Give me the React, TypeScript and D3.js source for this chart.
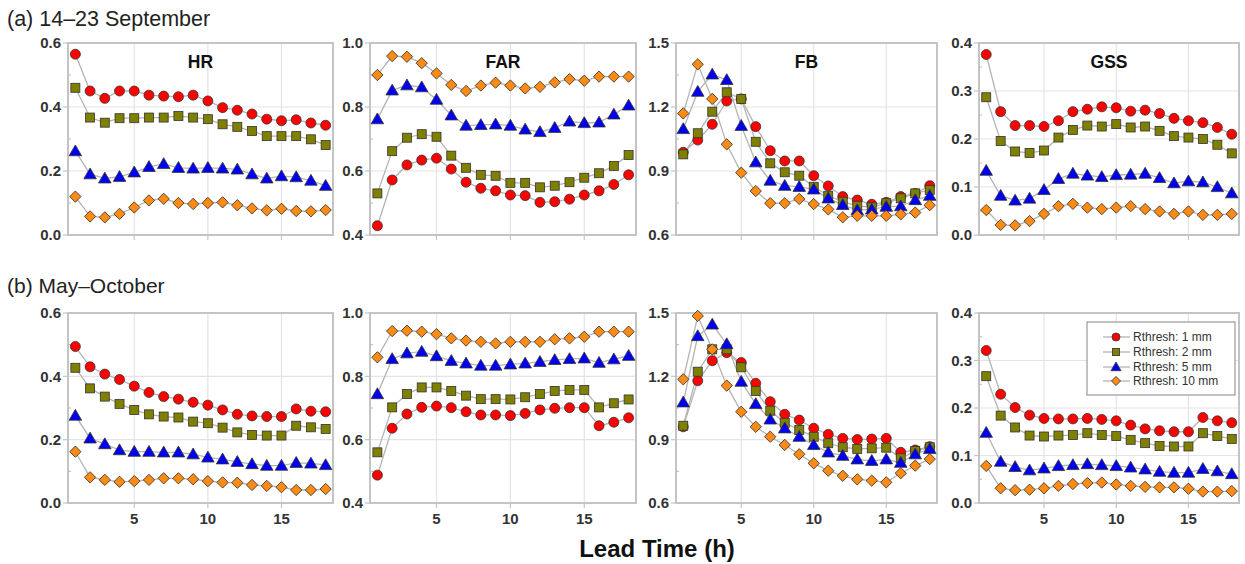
import React from "react";
import * as d3 from "d3";

const leadTimes = d3.range(1, 19);
const seriesNames = ["Rthresh: 1 mm", "Rthresh: 2 mm", "Rthresh: 5 mm", "Rthresh: 10 mm"];
const panelTitles = ["HR", "FAR", "FB", "GSS"];
const rowLabels = ["(a) 14\u201323 September", "(b) May\u2013October"];
const yDomains = [[0, 0.6], [0.4, 1.0], [0.6, 1.5], [0, 0.4]];
const yTickSteps = [0.2, 0.2, 0.3, 0.1];
const xTicks = [5, 10, 15];

// Row (a) 14–23 September
const hrA1 = [0.565, 0.45, 0.427, 0.45, 0.45, 0.437, 0.434, 0.432, 0.437, 0.419, 0.398, 0.39, 0.378, 0.362, 0.357, 0.36, 0.35, 0.343];
const hrA2 = [0.46, 0.367, 0.351, 0.365, 0.365, 0.367, 0.367, 0.372, 0.367, 0.362, 0.346, 0.338, 0.325, 0.309, 0.309, 0.309, 0.299, 0.281];
const hrA5 = [0.262, 0.19, 0.177, 0.182, 0.196, 0.213, 0.222, 0.21, 0.208, 0.21, 0.208, 0.205, 0.19, 0.177, 0.184, 0.181, 0.17, 0.154];
const hrA10 = [0.12, 0.058, 0.055, 0.066, 0.086, 0.108, 0.113, 0.1, 0.097, 0.1, 0.102, 0.093, 0.083, 0.077, 0.082, 0.075, 0.074, 0.078];

const farA1 = [0.429, 0.572, 0.619, 0.634, 0.64, 0.606, 0.565, 0.546, 0.538, 0.525, 0.523, 0.502, 0.504, 0.512, 0.525, 0.538, 0.558, 0.588];
const farA2 = [0.53, 0.662, 0.704, 0.715, 0.707, 0.648, 0.61, 0.588, 0.585, 0.563, 0.563, 0.549, 0.554, 0.565, 0.579, 0.593, 0.616, 0.65];
const farA5 = [0.762, 0.852, 0.868, 0.862, 0.823, 0.774, 0.742, 0.744, 0.746, 0.742, 0.73, 0.722, 0.735, 0.755, 0.75, 0.752, 0.777, 0.805];
const farA10 = [0.9, 0.959, 0.957, 0.937, 0.905, 0.869, 0.85, 0.867, 0.876, 0.867, 0.858, 0.863, 0.877, 0.887, 0.882, 0.895, 0.895, 0.895];

const fbA1 = [0.988, 1.045, 1.119, 1.228, 1.238, 1.108, 0.995, 0.947, 0.947, 0.878, 0.83, 0.78, 0.764, 0.744, 0.753, 0.78, 0.795, 0.831];
const fbA2 = [0.978, 1.077, 1.178, 1.269, 1.238, 1.037, 0.936, 0.894, 0.878, 0.826, 0.784, 0.756, 0.737, 0.73, 0.749, 0.772, 0.795, 0.811];
const fbA5 = [1.097, 1.272, 1.353, 1.327, 1.112, 0.941, 0.855, 0.831, 0.826, 0.814, 0.772, 0.741, 0.717, 0.72, 0.733, 0.735, 0.764, 0.784];
const fbA10 = [1.17, 1.4, 1.238, 1.025, 0.892, 0.806, 0.749, 0.749, 0.769, 0.745, 0.72, 0.683, 0.69, 0.69, 0.69, 0.697, 0.705, 0.74];

const gssA1 = [0.376, 0.257, 0.228, 0.228, 0.226, 0.238, 0.257, 0.262, 0.267, 0.265, 0.258, 0.26, 0.253, 0.243, 0.238, 0.234, 0.224, 0.21];
const gssA2 = [0.287, 0.196, 0.174, 0.171, 0.176, 0.203, 0.219, 0.228, 0.226, 0.231, 0.224, 0.226, 0.217, 0.206, 0.203, 0.2, 0.188, 0.17];
const gssA5 = [0.134, 0.082, 0.072, 0.076, 0.094, 0.117, 0.128, 0.124, 0.121, 0.125, 0.126, 0.128, 0.119, 0.108, 0.112, 0.11, 0.1, 0.087];
const gssA10 = [0.052, 0.021, 0.02, 0.029, 0.044, 0.06, 0.065, 0.057, 0.054, 0.057, 0.06, 0.054, 0.049, 0.044, 0.049, 0.042, 0.042, 0.044];

// Row (b) May–October
const hrB1 = [0.494, 0.43, 0.407, 0.39, 0.369, 0.349, 0.336, 0.328, 0.318, 0.309, 0.294, 0.28, 0.275, 0.273, 0.273, 0.297, 0.29, 0.288];
const hrB2 = [0.427, 0.362, 0.336, 0.313, 0.294, 0.28, 0.273, 0.27, 0.257, 0.252, 0.238, 0.223, 0.215, 0.213, 0.213, 0.244, 0.239, 0.234];
const hrB5 = [0.276, 0.204, 0.186, 0.167, 0.162, 0.162, 0.16, 0.16, 0.154, 0.144, 0.138, 0.13, 0.123, 0.118, 0.118, 0.127, 0.125, 0.12];
const hrB10 = [0.162, 0.081, 0.073, 0.067, 0.069, 0.073, 0.078, 0.078, 0.075, 0.069, 0.065, 0.064, 0.057, 0.054, 0.05, 0.041, 0.041, 0.044];

const farB1 = [0.488, 0.636, 0.681, 0.702, 0.706, 0.701, 0.688, 0.678, 0.678, 0.676, 0.683, 0.694, 0.699, 0.701, 0.701, 0.644, 0.655, 0.669];
const farB2 = [0.56, 0.702, 0.744, 0.765, 0.765, 0.754, 0.739, 0.728, 0.728, 0.727, 0.734, 0.744, 0.754, 0.757, 0.757, 0.702, 0.715, 0.727];
const farB5 = [0.744, 0.855, 0.873, 0.878, 0.864, 0.849, 0.841, 0.834, 0.834, 0.838, 0.841, 0.846, 0.852, 0.855, 0.857, 0.843, 0.854, 0.865];
const farB10 = [0.86, 0.943, 0.944, 0.941, 0.933, 0.92, 0.913, 0.909, 0.904, 0.909, 0.909, 0.909, 0.917, 0.92, 0.925, 0.941, 0.941, 0.941];

const fbB1 = [0.961, 1.179, 1.274, 1.312, 1.265, 1.167, 1.08, 1.02, 0.993, 0.954, 0.925, 0.906, 0.901, 0.903, 0.906, 0.84, 0.851, 0.867];
const fbB2 = [0.966, 1.222, 1.328, 1.328, 1.243, 1.131, 1.037, 0.98, 0.946, 0.914, 0.883, 0.864, 0.856, 0.859, 0.862, 0.812, 0.846, 0.864];
const fbB5 = [1.077, 1.391, 1.446, 1.353, 1.175, 1.069, 0.996, 0.954, 0.914, 0.875, 0.84, 0.824, 0.807, 0.8, 0.807, 0.791, 0.831, 0.856];
const fbB10 = [1.186, 1.486, 1.328, 1.156, 1.032, 0.961, 0.914, 0.875, 0.831, 0.788, 0.753, 0.729, 0.712, 0.706, 0.698, 0.741, 0.777, 0.808];

const gssB1 = [0.321, 0.229, 0.201, 0.185, 0.178, 0.177, 0.177, 0.178, 0.176, 0.173, 0.164, 0.156, 0.152, 0.15, 0.15, 0.18, 0.173, 0.169];
const gssB2 = [0.267, 0.184, 0.159, 0.142, 0.14, 0.142, 0.143, 0.147, 0.143, 0.141, 0.133, 0.126, 0.12, 0.119, 0.119, 0.147, 0.141, 0.135];
const gssB5 = [0.148, 0.087, 0.076, 0.069, 0.073, 0.078, 0.08, 0.082, 0.08, 0.078, 0.075, 0.071, 0.066, 0.064, 0.064, 0.072, 0.067, 0.061];
const gssB10 = [0.078, 0.031, 0.027, 0.028, 0.031, 0.036, 0.04, 0.042, 0.043, 0.039, 0.036, 0.034, 0.033, 0.033, 0.03, 0.024, 0.024, 0.025];

const panelData = [
  [[hrA1, hrA2, hrA5, hrA10], [farA1, farA2, farA5, farA10], [fbA1, fbA2, fbA5, fbA10], [gssA1, gssA2, gssA5, gssA10]],
  [[hrB1, hrB2, hrB5, hrB10], [farB1, farB2, farB5, farB10], [fbB1, fbB2, fbB5, fbB10], [gssB1, gssB2, gssB5, gssB10]],
];

// styling / layout
const W = 1245, H = 564;
const panelLefts = [68, 370, 676, 979];
const panelRights = [333, 636, 937, 1239];
const rowTops = [43, 313];
const rowBottoms = [235, 503];
const colors = ["#ff0000", "#7f7f00", "#0000ee", "#ff8a14"];
const font = "Arial, 'Liberation Sans', sans-serif";

function Marker({ kind, x, y, color, s = 1 }: { kind: number; x: number; y: number; color: string; s?: number }) {
  const common = { fill: color, stroke: "#333", strokeWidth: 0.8 };
  if (kind === 0) return <circle cx={x} cy={y} r={5 * s} {...common} />;
  if (kind === 1) return <rect x={x - 4.5 * s} y={y - 4.5 * s} width={9 * s} height={9 * s} {...common} />;
  if (kind === 2) {
    const p = d3.symbol(d3.symbolTriangle, 68 * s * s)();
    return <path d={p || ""} transform={`translate(${x},${y + s})`} {...common} />;
  }
  return <rect x={-4 * s} y={-4 * s} width={8 * s} height={8 * s} transform={`translate(${x},${y}) rotate(45)`} {...common} />;
}

function Panel({ row, col }: { row: number; col: number }) {
  const x0 = panelLefts[col], x1 = panelRights[col];
  const y0 = rowTops[row], y1 = rowBottoms[row];
  const x = d3.scaleLinear().domain([0.5, 18.5]).range([x0, x1]);
  const [lo, hi] = yDomains[col];
  const step = yTickSteps[col];
  const y = d3.scaleLinear().domain([lo, hi]).range([y1, y0]);
  const nTicks = Math.round((hi - lo) / step);
  const yTicks = d3.range(0, nTicks + 1).map((i) => lo + i * step);
  const minorTicks = d3.range(0, nTicks).map((i) => lo + (i + 0.5) * step);
  const line = d3.line<number>().x((_, i) => x(leadTimes[i])).y((v) => y(v));
  const series = panelData[row][col];
  const fmt = d3.format(".1f");
  return (
    <g>
      {yTicks.slice(1, -1).map((t) => (
        <line key={"gy" + t} x1={x0} x2={x1} y1={y(t)} y2={y(t)} stroke="#e4e4e4" strokeWidth={1.2} />
      ))}
      {xTicks.map((t) => (
        <line key={"gx" + t} x1={x(t)} x2={x(t)} y1={y0} y2={y1} stroke="#e4e4e4" strokeWidth={1.2} />
      ))}
      <rect x={x0} y={y0} width={x1 - x0} height={y1 - y0} fill="none" stroke="#c4c4c4" strokeWidth={2} />
      {xTicks.map((t) => (
        <line key={"tx" + t} x1={x(t)} x2={x(t)} y1={y1} y2={y1 + 5} stroke="#c4c4c4" strokeWidth={1.2} />
      ))}
      {yTicks.map((t) => (
        <line key={"ty" + t} x1={x0 - 5} x2={x0} y1={y(t)} y2={y(t)} stroke="#c4c4c4" strokeWidth={1.2} />
      ))}
      {minorTicks.map((t) => (
        <line key={"my" + t} x1={x0} x2={x0 + 3} y1={y(t)} y2={y(t)} stroke="#bbb" strokeWidth={1} />
      ))}
      {yTicks.map((t) => (
        <text key={"ly" + t} x={x0 - 7} y={y(t)} dy="0.36em" textAnchor="end" fontFamily={font} fontSize={15} fontWeight="bold" fill="#333">
          {fmt(t)}
        </text>
      ))}
      {row === 1 &&
        xTicks.map((t) => (
          <text key={"lx" + t} x={x(t)} y={y1 + 21} textAnchor="middle" fontFamily={font} fontSize={15} fontWeight="bold" fill="#333">
            {t}
          </text>
        ))}
      {row === 0 && (
        <text x={(x0 + x1) / 2} y={y0 + 25} textAnchor="middle" fontFamily={font} fontSize={17.5} fontWeight="bold" fill="#111">
          {panelTitles[col]}
        </text>
      )}
      {series.map((s, si) => (
        <path key={"l" + si} d={line(s) || ""} fill="none" stroke="#b4b4b4" strokeWidth={1.3} />
      ))}
      {series.map((s, si) =>
        s.map((v, i) => <Marker key={si + "-" + i} kind={si} x={x(leadTimes[i])} y={y(v)} color={colors[si]} />)
      )}
    </g>
  );
}

function Legend() {
  const lx = 1087, ly = 322;
  const rows = [337, 352, 367, 381];
  return (
    <g>
      <rect x={lx} y={ly} width={148} height={73} fill="#fff" stroke="#999" strokeWidth={1.2} />
      {seriesNames.map((n, i) => (
        <g key={n}>
          <line x1={1103} x2={1130} y1={rows[i]} y2={rows[i]} stroke="#b4b4b4" strokeWidth={1.3} />
          <Marker kind={i} x={1116} y={rows[i]} color={colors[i]} s={0.8} />
          <text x={1133} y={rows[i]} dy="0.35em" fontFamily={font} fontSize={12} fill="#333">
            {n}
          </text>
        </g>
      ))}
    </g>
  );
}

export default function App() {
  return (
    <svg width={W} height={H} style={{ position: "absolute", left: 0, top: 0, background: "#fff" }}>
      <rect width={W} height={H} fill="#fff" />
      <text x={7} y={26} fontFamily={font} fontSize={21.5} fill="#222">{rowLabels[0]}</text>
      <text x={7} y={293} fontFamily={font} fontSize={21} fill="#222">{rowLabels[1]}</text>
      {[0, 1].map((r) => [0, 1, 2, 3].map((c) => <Panel key={r + "-" + c} row={r} col={c} />))}
      <Legend />
      <text x={657} y={557} textAnchor="middle" fontFamily={font} fontSize={24} fontWeight="bold" fill="#111">
        Lead Time (h)
      </text>
    </svg>
  );
}
